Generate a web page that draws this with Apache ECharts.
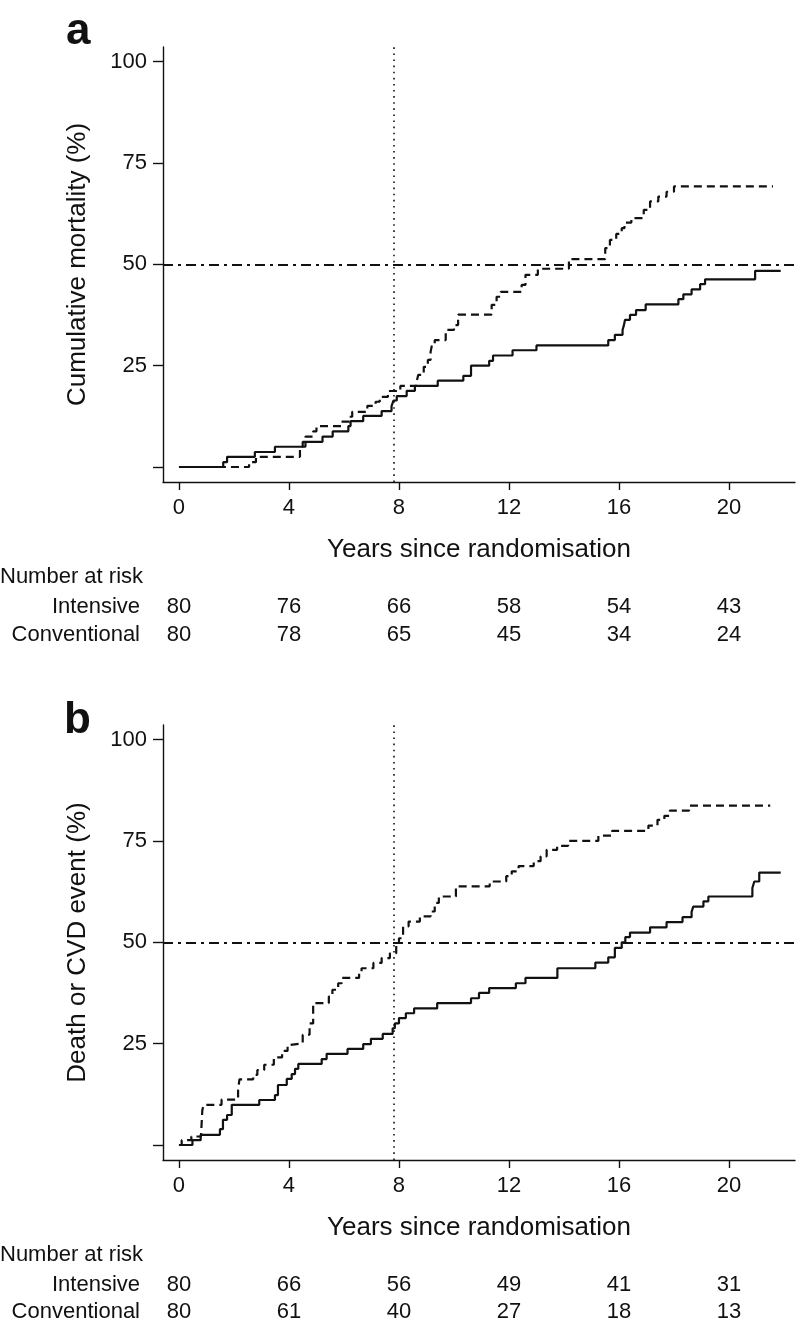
<!DOCTYPE html>
<html>
<head>
<meta charset="utf-8">
<script src="https://cdn.jsdelivr.net/npm/echarts@6/dist/echarts.min.js"></script>
<style>
html,body{margin:0;padding:0;background:#fff;}
#chart{width:798px;height:1326px;}
</style>
</head>
<body>
<div id="chart"></div>
<script>
// ---- data ----
const xTicks = [0, 4, 8, 12, 16, 20];
const yTicks = [0, 25, 50, 75, 100];
const groups = ['Intensive', 'Conventional'];
const refYear = 7.8;
const refPct = 50;

// Panel a: cumulative mortality (%), [years, %] steps
const mortIntensive = [[0,0],[1.61,1.2],[1.75,2.5],[2.76,3.7],[3.49,5.0],[4.5,6.2],[5.22,7.5],[5.59,8.8],[6.16,10.1],[6.24,11.3],[6.70,12.6],[7.37,13.8],[7.73,15.0],[7.8,16.4],[7.92,17.5],[8.28,18.8],[8.58,20.0],[9.41,21.3],[10.34,22.5],[10.62,25.0],[11.28,26.2],[11.42,27.5],[12.13,28.8],[13.0,30.0],[15.61,31.3],[15.85,32.6],[16.13,33.8],[16.18,35.0],[16.22,36.3],[16.4,37.5],[16.62,38.7],[16.97,40.1],[18.16,41.4],[18.34,42.6],[18.64,43.8],[18.95,45.1],[19.13,46.3],[20.95,48.4],[21.88,48.4]];
const mortConventional = [[0,0],[2.55,1.2],[2.8,2.5],[4.4,5.0],[4.6,7.5],[4.88,8.8],[5.0,10.1],[5.9,11.2],[6.2,12.4],[6.3,13.6],[6.85,15.1],[7.15,16.1],[7.3,17.3],[7.6,18.75],[8.05,20.0],[8.65,21.3],[8.7,22.7],[8.9,24.7],[9.05,26.4],[9.15,28.4],[9.2,30.1],[9.3,31.3],[9.7,33.8],[10.0,35.0],[10.15,37.6],[11.37,40.0],[11.55,42.0],[11.7,43.2],[12.46,44.9],[12.6,47.4],[13.05,48.9],[14.18,51.3],[15.5,54.0],[15.67,56.0],[15.9,57.5],[16.1,58.9],[16.2,60.3],[16.45,61.4],[16.9,63.4],[17.13,65.5],[17.43,66.7],[17.73,67.9],[18.0,69.2],[21.6,69.2]];

// Panel b: death or CVD event (%)
const cvdIntensive = [[0,0],[0.49,1.2],[0.79,2.5],[1.49,3.9],[1.6,6.2],[1.75,7.4],[1.92,9.9],[2.92,11.1],[3.49,12.3],[3.6,14.8],[3.92,16.3],[4.1,17.5],[4.22,18.8],[4.34,20.0],[5.19,21.2],[5.37,22.5],[6.13,23.7],[6.70,24.9],[6.98,26.2],[7.41,27.4],[7.77,28.8],[7.85,30.0],[8.0,31.3],[8.25,32.5],[8.55,33.7],[9.39,35.0],[10.62,36.2],[10.91,37.5],[11.28,38.7],[12.25,39.9],[12.6,41.2],[13.76,43.6],[15.14,45.0],[15.61,46.3],[15.85,48.6],[16.1,50.0],[16.23,51.3],[16.4,52.4],[17.13,53.7],[17.73,55.0],[18.31,56.2],[18.64,57.5],[18.7,58.8],[19.07,60.1],[19.25,61.3],[20.85,63.4],[20.92,65.0],[21.1,67.2],[21.88,67.2]];
const cvdConventional = [[0,0],[0.1,1.2],[0.45,2.1],[0.8,2.5],[0.85,8.6],[0.9,9.9],[1.55,11.2],[2.15,13.6],[2.2,16.2],[2.7,17.3],[2.85,18.5],[3.1,19.8],[3.45,21.6],[3.75,23.2],[3.95,24.7],[4.05,25.1],[4.5,27.2],[4.75,30.0],[4.88,35.0],[5.45,36.6],[5.58,38.3],[5.79,39.9],[5.92,41.2],[6.55,42.4],[6.64,43.6],[7.07,44.9],[7.37,46.1],[7.67,47.3],[7.9,49.5],[8.0,51.0],[8.15,53.9],[8.35,55.1],[8.76,56.4],[9.15,57.6],[9.3,59.7],[9.45,61.3],[10.07,63.8],[11.3,65.0],[11.9,66.3],[12.1,67.5],[12.35,68.8],[12.9,70.0],[13.15,71.2],[13.37,72.8],[13.75,73.8],[14.15,75.0],[15.25,76.3],[15.75,77.5],[17.07,78.8],[17.4,80.2],[17.65,81.2],[17.85,82.5],[18.55,83.7],[21.5,83.7]];

// Numbers at risk
const riskMortIntensive = [80, 76, 66, 58, 54, 43];
const riskMortConventional = [80, 78, 65, 45, 34, 24];
const riskCvdIntensive = [80, 66, 56, 49, 41, 31];
const riskCvdConventional = [80, 61, 40, 27, 18, 13];

// ---- chart ----
const FONT = 'Liberation Sans, Arial, Helvetica, sans-serif';
const INK = '#111';
const X_MIN = -0.58, X_MAX = 22.4;
const Y_MIN = -3.7, Y_MAX = 103.6;

const chart = echarts.init(document.getElementById('chart'), null, {renderer: 'canvas'});

function mainX(gridIndex) {
  return {
    type: 'value', gridIndex, min: X_MIN, max: X_MAX,
    name: 'Years since randomisation', nameLocation: 'middle', nameGap: 55,
    nameTextStyle: {fontFamily: FONT, fontSize: 26, color: INK},
    axisLine: {show: true, onZero: false, lineStyle: {color: INK, width: 1.4}},
    axisTick: {show: true, length: 8, customValues: xTicks, lineStyle: {color: INK, width: 1.4}},
    axisLabel: {show: true, customValues: xTicks, margin: 15, fontFamily: FONT, fontSize: 22, color: INK},
    splitLine: {show: false}
  };
}
function mainY(gridIndex, title) {
  return {
    type: 'value', gridIndex, min: Y_MIN, max: Y_MAX,
    name: title, nameLocation: 'middle', nameGap: 72,
    nameTextStyle: {fontFamily: FONT, fontSize: 26, color: INK},
    axisLine: {show: true, onZero: false, lineStyle: {color: INK, width: 1.4}},
    axisTick: {show: true, length: 10, customValues: yTicks, lineStyle: {color: INK, width: 1.4}},
    axisLabel: {show: true, customValues: yTicks, margin: 16, fontFamily: FONT, fontSize: 22, color: INK,
      formatter: v => (v === 0 ? '' : String(v))},
    splitLine: {show: false}
  };
}
function tableX(gridIndex) {
  return {type: 'value', gridIndex, min: X_MIN, max: X_MAX, show: false};
}
function tableY(gridIndex) {
  return {
    type: 'category', gridIndex, data: groups, inverse: true,
    axisLine: {show: false}, axisTick: {show: false}, splitLine: {show: false},
    axisLabel: {show: true, interval: 0, hideOverlap: false, margin: 23, fontFamily: FONT, fontSize: 22, color: INK, align: 'right'}
  };
}
function curve(name, data, xi, yi, dashed, refs) {
  const s = {
    name, type: 'line', xAxisIndex: xi, yAxisIndex: yi, data, step: 'end',
    showSymbol: false, symbol: 'none', animation: false, silent: true,
    lineStyle: {color: INK, width: 2.2, type: dashed ? [8, 5] : 'solid'}
  };
  if (refs) {
    s.markLine = {
      silent: true, symbol: ['none', 'none'], animation: false, label: {show: false},
      data: [
        {yAxis: refPct, lineStyle: {color: INK, width: 2, type: [10, 5, 3, 5]}},
        {xAxis: refYear, lineStyle: {color: INK, width: 1.6, type: [1.6, 4.5]}}
      ]
    };
  }
  return s;
}
function riskSeries(xi, yi, counts, group) {
  return {
    type: 'scatter', xAxisIndex: xi, yAxisIndex: yi, animation: false, silent: true,
    symbol: 'circle', symbolSize: 0.5, itemStyle: {color: '#ffffff', opacity: 1},
    data: xTicks.map((t, i) => [t, group, counts[i]]),
    label: {show: true, position: 'inside', formatter: p => String(p.value[2]),
      fontFamily: FONT, fontSize: 22, color: INK, opacity: 1, textBorderWidth: 0}
  };
}

const option = {
  backgroundColor: '#fff',
  animation: false,
  grid: [
    {left: 163, top: 47, width: 632, height: 435},
    {left: 163, top: 593, width: 632, height: 56},
    {left: 163, top: 725, width: 632, height: 435},
    {left: 163, top: 1271, width: 632, height: 56}
  ],
  xAxis: [mainX(0), tableX(1), mainX(2), tableX(3)],
  yAxis: [mainY(0, 'Cumulative mortality (%)'), tableY(1), mainY(2, 'Death or CVD event (%)'), tableY(3)],
  graphic: [
    {type: 'text', left: 66, top: 10, style: {text: 'a', font: 'bold 44px ' + FONT, fill: INK}},
    {type: 'text', left: 64, top: 699, style: {text: 'b', font: 'bold 44px ' + FONT, fill: INK}},
    {type: 'text', left: 0, top: 566, style: {text: 'Number at risk', font: '22px ' + FONT, fill: INK}},
    {type: 'text', left: 0, top: 1244, style: {text: 'Number at risk', font: '22px ' + FONT, fill: INK}}
  ],
  series: [
    curve('Intensive', mortIntensive, 0, 0, false, true),
    curve('Conventional', mortConventional, 0, 0, true, false),
    riskSeries(1, 1, riskMortIntensive, 'Intensive'),
    riskSeries(1, 1, riskMortConventional, 'Conventional'),
    curve('Intensive', cvdIntensive, 2, 2, false, true),
    curve('Conventional', cvdConventional, 2, 2, true, false),
    riskSeries(3, 3, riskCvdIntensive, 'Intensive'),
    riskSeries(3, 3, riskCvdConventional, 'Conventional')
  ]
};
chart.setOption(option);
</script>
</body>
</html>
